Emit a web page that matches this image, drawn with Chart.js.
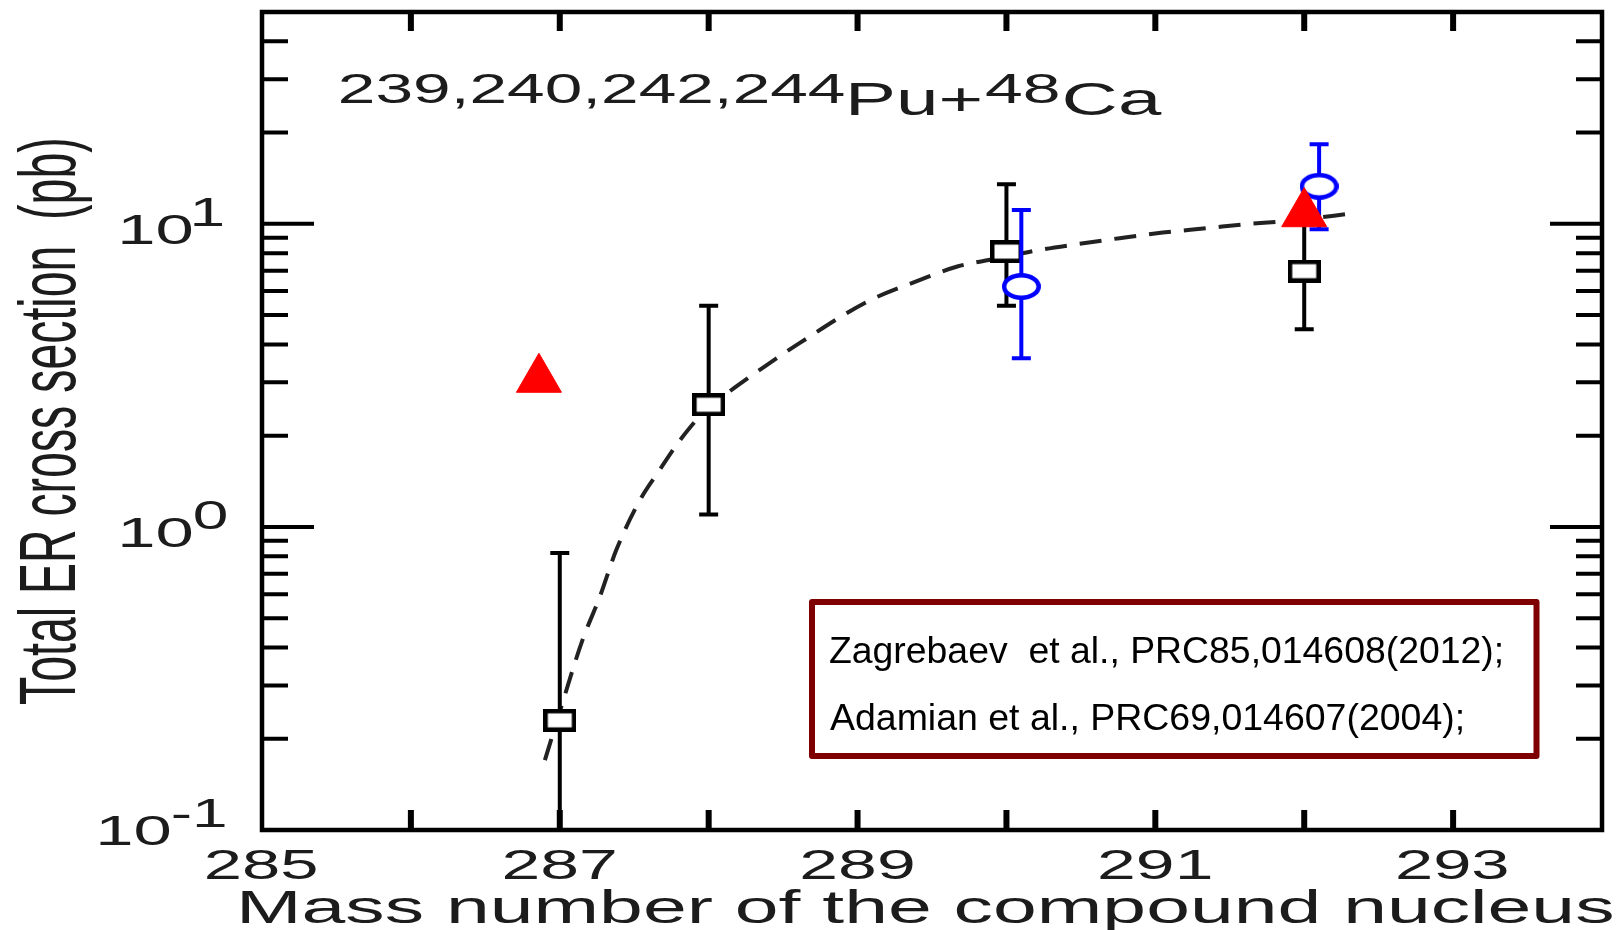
<!DOCTYPE html>
<html>
<head>
<meta charset="utf-8">
<script src="https://cdn.jsdelivr.net/npm/chart.js@4.4.1/dist/chart.umd.min.js"></script>
<style>
  html, body { margin: 0; padding: 0; background: #fff; }
  #wrap { width: 1620px; height: 930px; }
</style>
</head>
<body>
<div id="wrap"><canvas id="erChart" width="1620" height="930"></canvas></div>
<script>
// ----------- data -----------
// measured ER cross sections (squares) with error bars
const expMass = [287, 288, 290, 292];
const expSigma = [0.23, 2.53, 8.1, 6.98];
const expLow = [0.05, 1.10, 5.37, 4.49];
const expHigh = [0.82, 5.37, 13.5, 10.8];

// second set of measurements (blue circles)
const otherMass = [290.1, 292.1];
const otherSigma = [6.21, 13.3];
const otherLow = [3.6, 9.6];
const otherHigh = [11.1, 18.3];

// calculated values (red triangles)
const calcMass = [286.86, 292];
const calcSigma = [3.07, 10.8];

// calculated curve (dashed)
const curveMass = [286.90, 287.01, 287.15, 287.27, 287.38, 287.54, 287.67, 287.81, 287.96, 288.17,
                   288.39, 288.61, 289.07, 289.42, 289.67, 289.89, 290.23, 290.49, 290.76, 291.05,
                   291.35, 291.61, 291.92, 292.34];
const curveSigma = [0.17, 0.255, 0.42, 0.59, 0.84, 1.23, 1.54, 1.94, 2.37, 2.87,
                    3.42, 4.04, 5.55, 6.53, 7.23, 7.61, 8.21, 8.59, 8.97, 9.36,
                    9.68, 9.98, 10.26, 10.85];

const xTickLabels = [285, 287, 289, 291, 293];
const yDecades = [-1, 0, 1];
const refLines = ['Zagrebaev  et al., PRC85,014608(2012);', 'Adamian et al., PRC69,014607(2004);'];

const FONT = '"Liberation Sans", Arial, Helvetica, sans-serif';
const TEXT = '#1c1c1c';

// ----------- markers (hollow rectangle / ellipse) -----------
function makeMarker(w, h, lw, color, shape) {
    const c = document.createElement('canvas');
    c.width = w; c.height = h;
    const g = c.getContext('2d');
    g.fillStyle = '#fff';
    g.strokeStyle = color;
    g.lineWidth = lw;
    if (shape === 'rect') {
        g.fillRect(lw / 2, lw / 2, w - lw, h - lw);
        g.strokeRect(lw / 2, lw / 2, w - lw, h - lw);
    } else {
        g.beginPath();
        g.ellipse(w / 2, h / 2, w / 2 - lw / 2, h / 2 - lw / 2, 0, 0, Math.PI * 2);
        g.fill();
        g.stroke();
    }
    return c;
}
const squareMark = makeMarker(33, 23, 4.5, '#000', 'rect');
const circleMark = makeMarker(39, 27, 4.5, '#0000ff', 'ellipse');

const toPoints = (xs, ys) => xs.map((x, i) => ({ x: x, y: ys[i] }));

// ----------- helpers for text -----------
// draw text so that its ink spans left..right
function fitText(ctx, text, size, left, right, baseline) {
    ctx.font = size + 'px ' + FONT;
    ctx.textAlign = 'left';
    ctx.textBaseline = 'alphabetic';
    const m = ctx.measureText(text);
    const ink = m.actualBoundingBoxLeft + m.actualBoundingBoxRight;
    ctx.save();
    ctx.translate(left, baseline);
    ctx.scale((right - left) / ink, 1);
    ctx.fillText(text, m.actualBoundingBoxLeft, 0);
    ctx.restore();
}

// text stretched by sx, returns ink right edge
function stretchText(ctx, text, size, sx, left, baseline) {
    ctx.font = size + 'px ' + FONT;
    ctx.textAlign = 'left';
    ctx.textBaseline = 'alphabetic';
    const m = ctx.measureText(text);
    ctx.save();
    ctx.translate(left, baseline);
    ctx.scale(sx, 1);
    ctx.fillText(text, m.actualBoundingBoxLeft, 0);
    ctx.restore();
    return left + (m.actualBoundingBoxLeft + m.actualBoundingBoxRight) * sx;
}

// ----------- error bars, drawn under each dataset's markers -----------
const errorBars = {
    id: 'errorBars',
    beforeDatasetDraw(chart, args) {
        const ds = chart.data.datasets[args.index];
        if (!ds.errLow) return;
        const { ctx, chartArea: a } = chart;
        const x = chart.scales.x, y = chart.scales.y;
        const cap = 9.5;
        ctx.save();
        ctx.beginPath();
        ctx.rect(a.left, a.top, a.right - a.left, a.bottom - a.top);
        ctx.clip();
        ctx.strokeStyle = ds.errColor;
        ctx.lineWidth = ds.errWidth;
        ds.data.forEach((p, i) => {
            const px = x.getPixelForValue(p.x);
            const lo = y.getPixelForValue(ds.errLow[i]);
            const hi = y.getPixelForValue(ds.errHigh[i]);
            ctx.beginPath();
            ctx.moveTo(px, lo); ctx.lineTo(px, hi);
            ctx.moveTo(px - cap, lo); ctx.lineTo(px + cap, lo);
            ctx.moveTo(px - cap, hi); ctx.lineTo(px + cap, hi);
            ctx.stroke();
        });
        ctx.restore();
    }
};

// ----------- frame, inward ticks, labels, reference box -----------
const frameAndText = {
    id: 'frameAndText',
    afterDraw(chart) {
        const { ctx, chartArea: a } = chart;
        const x = chart.scales.x, y = chart.scales.y;
        ctx.save();
        ctx.strokeStyle = '#000';
        ctx.lineCap = 'butt';

        // x ticks, top and bottom
        ctx.lineWidth = 6;
        for (let v = Math.ceil(x.min) + 1; v < x.max; v++) {
            const px = x.getPixelForValue(v);
            ctx.beginPath();
            ctx.moveTo(px, a.bottom); ctx.lineTo(px, a.bottom - 20);
            ctx.moveTo(px, a.top); ctx.lineTo(px, a.top + 19);
            ctx.stroke();
        }

        // y ticks, left and right (log)
        ctx.lineWidth = 4;
        for (let e = -1; e <= 1; e++) {
            for (let k = 1; k <= 9; k++) {
                const v = k * Math.pow(10, e);
                if (v <= y.min || v >= y.max) continue;
                const py = y.getPixelForValue(v);
                const len = k === 1 ? 52 : 26;
                ctx.beginPath();
                ctx.moveTo(a.left, py); ctx.lineTo(a.left + len, py);
                ctx.moveTo(a.right, py); ctx.lineTo(a.right - len, py);
                ctx.stroke();
            }
        }

        // frame
        ctx.lineWidth = 4.5;
        ctx.strokeRect(a.left, a.top, a.right - a.left, a.bottom - a.top);

        ctx.fillStyle = TEXT;

        // x tick labels
        xTickLabels.forEach(v => {
            const px = x.getPixelForValue(v);
            fitText(ctx, String(v), 43, px - 55, px + 55, a.bottom + 49);
        });

        // y tick labels 10^n
        yDecades.forEach(e => {
            const py = y.getPixelForValue(Math.pow(10, e));
            const base = Math.min(py + 20, a.bottom + 15);
            const left = e < 0 ? 100 : 122;
            const r = stretchText(ctx, '10', 43, 1.6, left, base);
            stretchText(ctx, String(e), 40, 1.6, r + 2, base - 18);
        });

        // axis titles
        fitText(ctx, 'Mass number of the compound nucleus', 47, 241, 1612, 923);

        ctx.save();
        const yTitle = 'Total ER cross section  (pb)';
        ctx.font = '40px ' + FONT;
        const m = ctx.measureText(yTitle);
        const capH = ctx.measureText('T').actualBoundingBoxAscent;
        const sx = 565 / (m.actualBoundingBoxLeft + m.actualBoundingBoxRight);
        const sy = 56 / capH;
        ctx.translate(75, 705);
        ctx.rotate(-Math.PI / 2);
        ctx.scale(sx, sy);
        ctx.textBaseline = 'alphabetic';
        ctx.fillText(yTitle, m.actualBoundingBoxLeft, 0);
        ctx.restore();

        // reaction label with superscript mass numbers
        fitText(ctx, '239,240,242,244', 43, 341, 844, 103);
        fitText(ctx, 'Pu+', 46, 850, 980, 115);
        fitText(ctx, '48', 43, 985, 1059, 103);
        fitText(ctx, 'Ca', 46, 1065, 1162, 115);

        // reference box
        ctx.strokeStyle = '#7f0000';
        ctx.lineWidth = 6;
        ctx.lineJoin = 'round';
        ctx.strokeRect(812, 602, 724.5, 154);
        ctx.fillStyle = '#000';
        fitText(ctx, refLines[0], 36, 830, 1501, 663);
        fitText(ctx, refLines[1], 36, 830, 1462, 729.5);

        ctx.restore();
    }
};

// ----------- chart -----------
const ctx = document.getElementById('erChart').getContext('2d');
new Chart(ctx, {
    type: 'scatter',
    data: {
        datasets: [
            {
                label: 'calc',
                data: toPoints(calcMass, calcSigma),
                pointStyle: 'triangle',
                pointRadius: 26,
                backgroundColor: '#ff0000',
                borderColor: '#ff0000',
                borderWidth: 1,
                order: 0
            },
            {
                label: 'exp2',
                data: toPoints(otherMass, otherSigma),
                pointStyle: circleMark,
                pointRadius: 10,
                errLow: otherLow,
                errHigh: otherHigh,
                errColor: '#0000ff',
                errWidth: 4,
                order: 1
            },
            {
                label: 'exp',
                data: toPoints(expMass, expSigma),
                pointStyle: squareMark,
                pointRadius: 10,
                errLow: expLow,
                errHigh: expHigh,
                errColor: '#000',
                errWidth: 4,
                order: 2
            },
            {
                type: 'line',
                label: 'curve',
                data: toPoints(curveMass, curveSigma),
                borderColor: '#222',
                borderWidth: 4,
                borderDash: [22, 13],
                pointRadius: 0,
                cubicInterpolationMode: 'monotone',
                fill: false,
                order: 3
            }
        ]
    },
    options: {
        responsive: false,
        animation: false,
        devicePixelRatio: 1,
        layout: {
            autoPadding: false,
            padding: { left: 262, right: 18, top: 12, bottom: 100 }
        },
        plugins: {
            legend: { display: false },
            tooltip: { enabled: false }
        },
        scales: {
            x: { type: 'linear', min: 285, max: 294, display: false },
            y: { type: 'logarithmic', min: 0.1, max: 50, display: false }
        }
    },
    plugins: [errorBars, frameAndText]
});
</script>
</body>
</html>
